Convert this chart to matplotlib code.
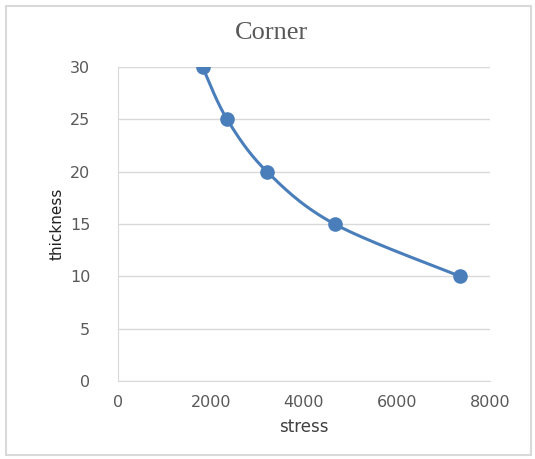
import numpy as np
import matplotlib
matplotlib.use("Agg")
import matplotlib.pyplot as plt
from matplotlib.patches import Rectangle

stress = [1818, 2346, 3204, 4656, 7355]
thickness = [30, 25, 20, 15, 10]
x_ticks = [0, 2000, 4000, 6000, 8000]
y_ticks = [0, 5, 10, 15, 20, 25, 30]
title = "Corner"
x_label = "stress"
y_label = "thickness"

def catmull_rom(xs, ys, n=40):
    pts = np.column_stack([xs, ys]).astype(float)
    P = np.vstack([pts[0], pts, pts[-1]])
    out = []
    for i in range(1, len(P) - 2):
        p0, p1, p2, p3 = P[i - 1], P[i], P[i + 1], P[i + 2]
        c1 = p1 + (p2 - p0) / 6.0
        c2 = p2 - (p3 - p1) / 6.0
        t = np.linspace(0, 1, n)[:, None]
        seg = ((1 - t) ** 3) * p1 + 3 * ((1 - t) ** 2) * t * c1 + 3 * (1 - t) * t ** 2 * c2 + t ** 3 * p2
        out.append(seg if i == 1 else seg[1:])
    s = np.vstack(out)
    return s[:, 0], s[:, 1]

fig = plt.figure(figsize=(5.35, 4.59), dpi=100)
fig.patches.append(Rectangle((6 / 535, 4 / 459), 525 / 535, 449 / 459, transform=fig.transFigure,
                             fill=False, edgecolor="#d9d9d9", linewidth=1.5))
ax = fig.add_axes([118 / 535, 1 - 381 / 459, 372 / 535, 314 / 459])

xr, yr = 8000.0, 30.0
aspect = (314 / 372)
sx, sy = catmull_rom(np.array(stress) / xr, np.array(thickness) / yr * aspect)
ax.plot(sx * xr, sy / aspect * yr, color="#4a7ebb", linewidth=2.2, solid_capstyle="round", zorder=3)
ax.plot(stress, thickness, linestyle="none", marker="o", markersize=9.5,
        color="#4a7ebb", zorder=4)

ax.set_xlim(0, 8000)
ax.set_ylim(0, 30)
ax.set_xticks(x_ticks)
ax.set_yticks(y_ticks)
ax.grid(axis="y", color="#d9d9d9", linewidth=1)
ax.set_axisbelow(True)
for s in ["top", "right"]:
    ax.spines[s].set_visible(False)
ax.spines["left"].set_color("#d9d9d9")
ax.spines["bottom"].set_color("#d9d9d9")
ax.tick_params(length=0, colors="#595959", labelsize=11.5)
ax.tick_params(axis="y", pad=20)
ax.tick_params(axis="x", pad=10)
for lab in ax.get_xticklabels() + ax.get_yticklabels():
    lab.set_fontfamily("DejaVu Sans")
ax.set_xlabel(x_label, fontsize=12, color="#404040", family="DejaVu Sans", labelpad=6)
ax.set_ylabel(y_label, fontsize=11, color="#202020", family="DejaVu Sans", labelpad=4)
fig.text(272 / 535, 1 - 33 / 459, title, ha="center", va="center", fontsize=19,
         family="Liberation Serif", color="#595959")

fig.savefig("out.png", dpi=100)
